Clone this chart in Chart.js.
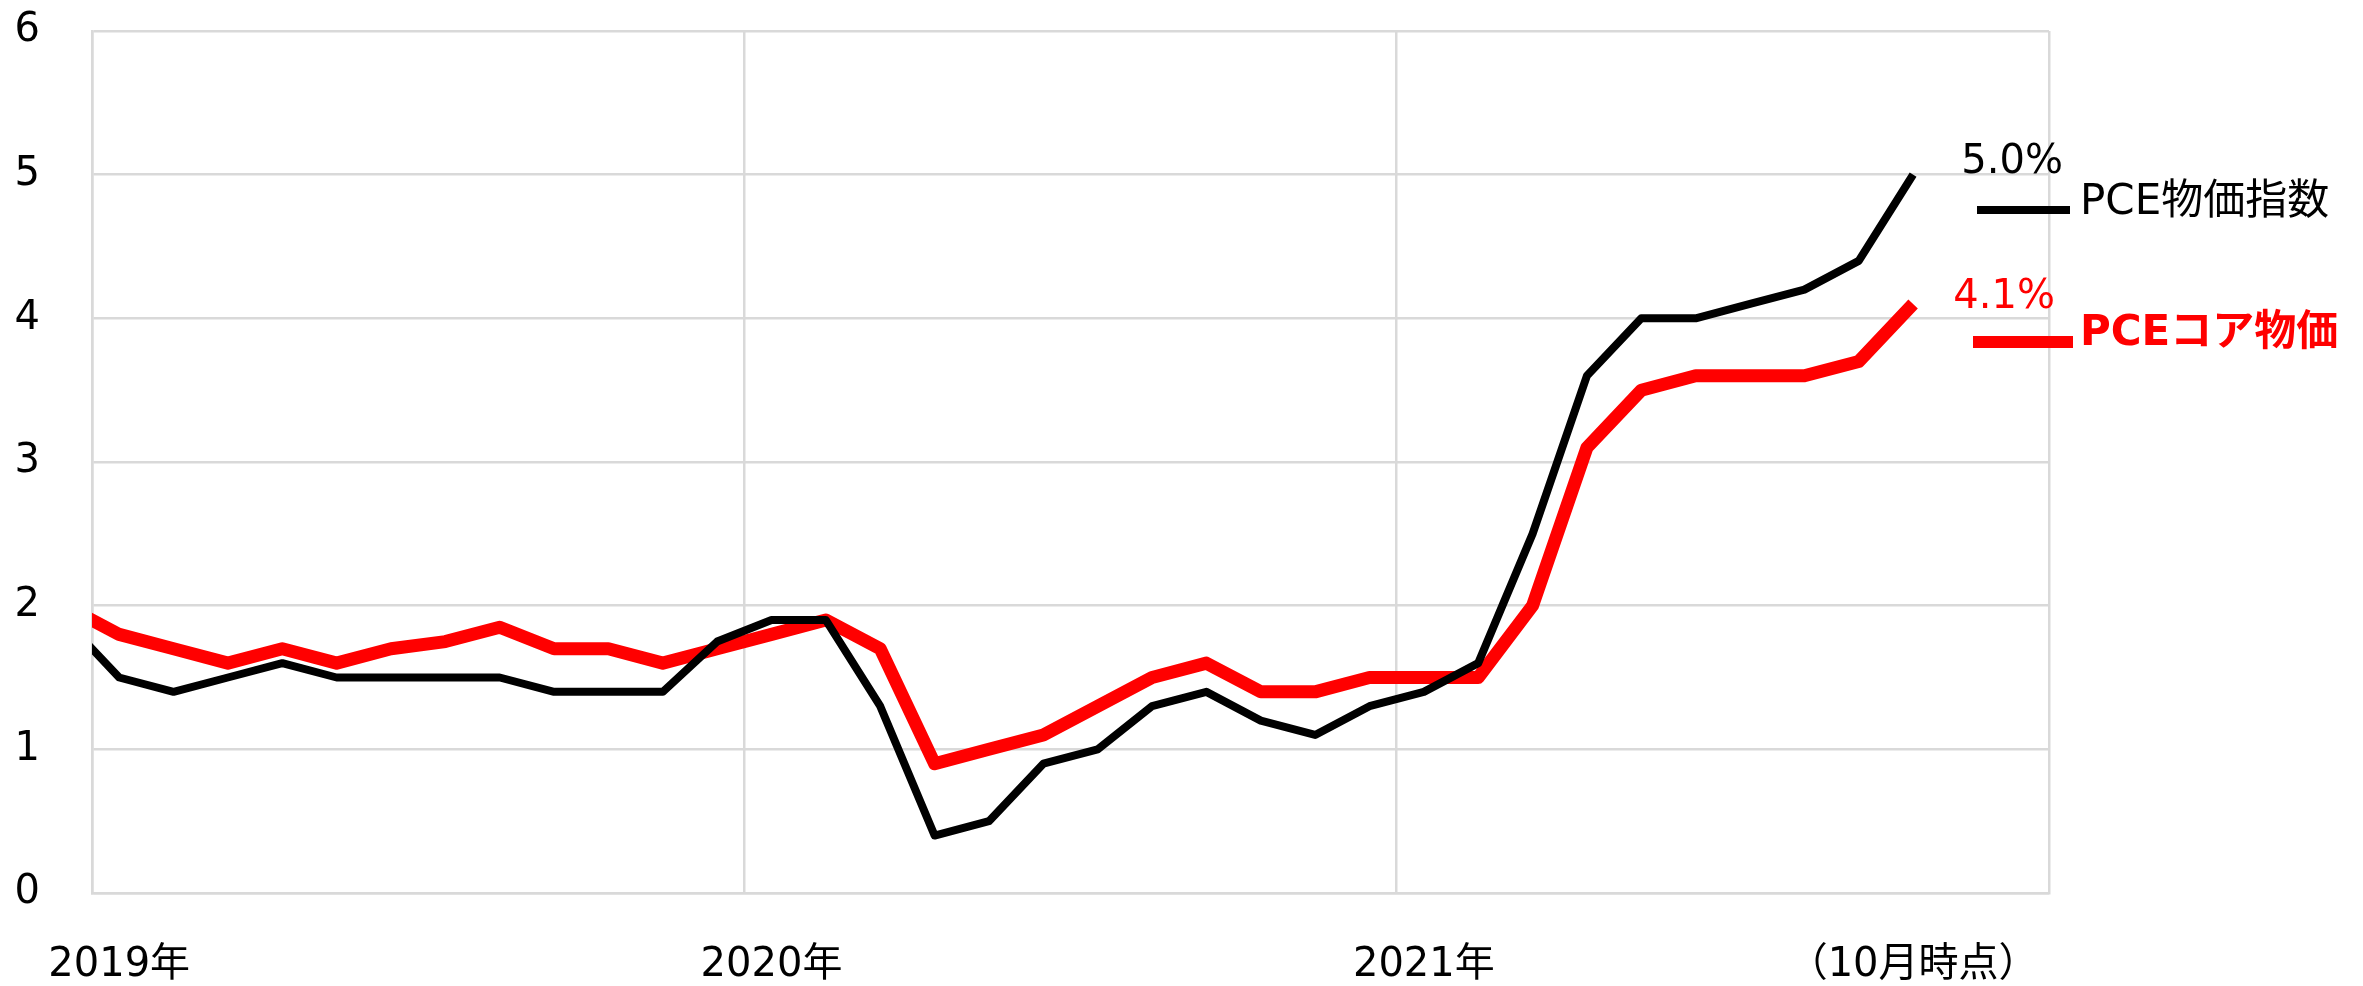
<!DOCTYPE html>
<html lang="ja">
<head>
<meta charset="utf-8">
<title>PCE物価指数</title>
<script src="https://cdn.jsdelivr.net/npm/chart.js@4/dist/chart.umd.min.js"></script>
<style>
	html, body { margin: 0; padding: 0; background: #fff; }
	#wrapper { width: 2363px; height: 986px; }
</style>
</head>
<body>
<div id="wrapper"><canvas id="chart"></canvas></div>
<script>
	// Monthly points (year-on-year %, Dec 2018 only shows as the clipped segment at the left edge)
	const months = [
		"2018-12",
		"2019-01", "2019-02", "2019-03", "2019-04", "2019-05", "2019-06",
		"2019-07", "2019-08", "2019-09", "2019-10", "2019-11", "2019-12",
		"2020-01", "2020-02", "2020-03", "2020-04", "2020-05", "2020-06",
		"2020-07", "2020-08", "2020-09", "2020-10", "2020-11", "2020-12",
		"2021-01", "2021-02", "2021-03", "2021-04", "2021-05", "2021-06",
		"2021-07", "2021-08", "2021-09", "2021-10"
	];
	const pceAll = [
		1.9,
		1.5, 1.4, 1.5, 1.6, 1.5, 1.5, 1.5, 1.5, 1.4, 1.4, 1.4, 1.75,
		1.9, 1.9, 1.3, 0.4, 0.5, 0.9, 1.0, 1.3, 1.4, 1.2, 1.1, 1.3,
		1.4, 1.6, 2.5, 3.6, 4.0, 4.0, 4.1, 4.2, 4.4, 5.0
	];
	const pceCore = [
		2.0,
		1.8, 1.7, 1.6, 1.7, 1.6, 1.7, 1.75, 1.85, 1.7, 1.7, 1.6, 1.7,
		1.8, 1.9, 1.7, 0.9, 1.0, 1.1, 1.3, 1.5, 1.6, 1.4, 1.4, 1.5,
		1.5, 1.5, 2.0, 3.1, 3.5, 3.6, 3.6, 3.6, 3.7, 4.1
	];
	const seriesNames = ["PCE物価指数", "PCEコア物価"];
	const endLabels = ["5.0%", "4.1%"];

	// Axis labels and grid
	const xTickMonths = ["2019-01", "2020-01", "2021-01", "2021-10"];
	const xTickLabels = ["2019年", "2020年", "2021年", "（10月時点）"];
	const yearStarts = ["2019-01", "2020-01", "2021-01", "2022-01"];
	const yMin = 0;
	const yMax = 6;

	const FONT = '"DejaVu Sans", "Noto Sans CJK JP", sans-serif';
	const GRID = "#d9d9d9";

	/**
	 * Position of a month's midpoint, in months from the start of 2019.
	 *
	 * @param {string} month
	 * @returns {number}
	 */
	const monthPosition = (month) => {
		const [year, mon] = month.split("-").map(Number);
		return (year - 2019) * 12 + (mon - 1) + 0.5;
	};

	const toPoints = (values) => values.map((value, i) => ({ x: monthPosition(months[i]), y: value }));

	const gridValues = yearStarts.map((m) => monthPosition(m) - 0.5);
	const labelValues = xTickMonths.map(monthPosition);

	// where the side texts sit (legend + end values)
	const sideStyles = [
		{ valueDx: 99, valueDy: -12, lineFrom: 1977, lineTo: 2070, lineY: 210, lineWidth: 8, textX: 2080, textY: 203, bold: false },
		{ valueDx: 91, valueDy: -6, lineFrom: 1973, lineTo: 2073, lineY: 342, lineWidth: 12, textX: 2080, textY: 334, bold: true }
	];

	/**
	 * Draws the month labels under the x axis, centred on their month.
	 */
	const monthLabels = {
		id: "monthLabels",
		afterDraw(chart) {
			const { ctx, chartArea, scales } = chart;
			ctx.save();
			ctx.fillStyle = "#000";
			ctx.font = `40px ${FONT}`;
			ctx.textAlign = "center";
			ctx.textBaseline = "middle";
			labelValues.forEach((value, i) => {
				ctx.fillText(xTickLabels[i], scales.x.getPixelForValue(value), chartArea.bottom + 73);
			});
			ctx.restore();
		}
	};

	/**
	 * Draws the end values and the legend to the right of the plot.
	 */
	const sideLabels = {
		id: "sideLabels",
		afterDraw(chart) {
			const { ctx, scales } = chart;
			chart.data.datasets.forEach((dataset, i) => {
				const style = sideStyles[i];
				const last = dataset.data[dataset.data.length - 1];
				const px = scales.x.getPixelForValue(last.x);
				const py = scales.y.getPixelForValue(last.y);
				ctx.save();
				ctx.fillStyle = dataset.borderColor;
				ctx.textBaseline = "middle";
				ctx.textAlign = "center";
				ctx.font = `40px ${FONT}`;
				ctx.fillText(endLabels[i], px + style.valueDx, py + style.valueDy);

				ctx.strokeStyle = dataset.borderColor;
				ctx.lineWidth = style.lineWidth;
				ctx.beginPath();
				ctx.moveTo(style.lineFrom, style.lineY);
				ctx.lineTo(style.lineTo, style.lineY);
				ctx.stroke();

				ctx.textAlign = "left";
				ctx.font = `${style.bold ? "bold " : ""}42px ${FONT}`;
				ctx.fillText(dataset.label, style.textX, style.textY);
				ctx.restore();
			});
		}
	};

	new Chart(document.getElementById("chart"), {
		type: "line",
		data: {
			datasets: [
				{
					label: seriesNames[0],
					data: toPoints(pceAll),
					borderColor: "#000000",
					borderWidth: 8,
					pointRadius: 0,
					tension: 0,
					borderJoinStyle: "round"
				},
				{
					label: seriesNames[1],
					data: toPoints(pceCore),
					borderColor: "#ff0000",
					borderWidth: 13,
					pointRadius: 0,
					tension: 0,
					borderJoinStyle: "round"
				}
			]
		},
		options: {
			responsive: true,
			maintainAspectRatio: false,
			animation: false,
			events: [],
			layout: { padding: { left: 0, right: 314, top: 31, bottom: 0 } },
			plugins: {
				legend: { display: false },
				tooltip: { enabled: false }
			},
			scales: {
				x: {
					type: "linear",
					min: gridValues[0],
					max: gridValues[gridValues.length - 1],
					afterBuildTicks: (scale) => {
						scale.ticks = gridValues.map((value) => ({ value }));
					},
					afterFit: (scale) => {
						scale.height = 93;
						scale.paddingLeft = 0;
						scale.paddingRight = 0;
					},
					grid: { color: GRID, lineWidth: 2.5, drawTicks: false },
					border: { display: true, color: GRID, width: 2.5 },
					ticks: { display: false }
				},
				y: {
					min: yMin,
					max: yMax,
					afterFit: (scale) => {
						scale.width = 92;
						scale.paddingTop = 0;
						scale.paddingBottom = 0;
					},
					grid: { color: GRID, lineWidth: 2.5, drawTicks: false },
					border: { display: true, color: GRID, width: 2.5 },
					ticks: {
						stepSize: 1,
						padding: 52,
						color: "#000",
						font: { family: FONT, size: 40 }
					}
				}
			}
		},
		plugins: [monthLabels, sideLabels]
	});
</script>
</body>
</html>
